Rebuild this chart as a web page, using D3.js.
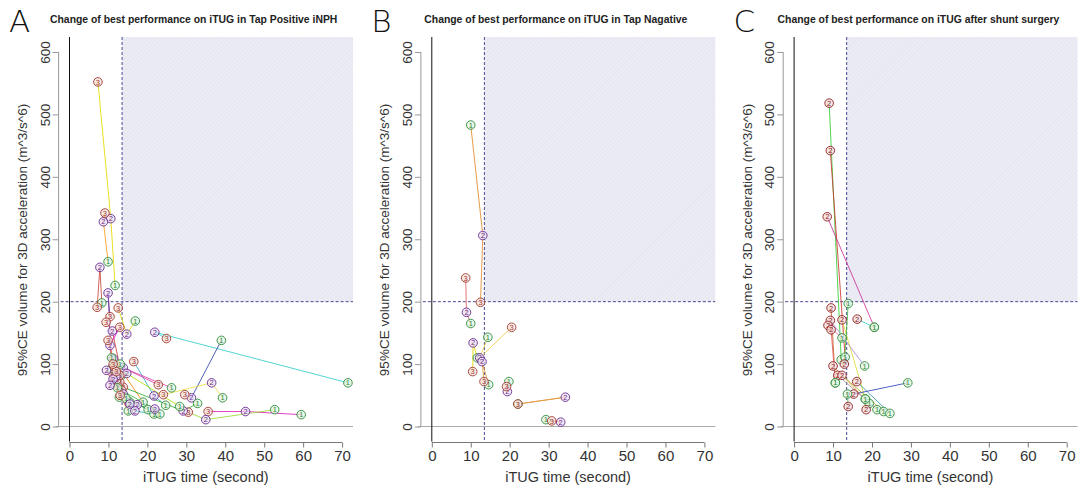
<!DOCTYPE html>
<html>
<head>
<meta charset="utf-8">
<script src="https://cdn.jsdelivr.net/npm/d3@7"></script>
<style>
body { margin: 0; background: #fff; }
svg { display: block; }
</style>
</head>
<body>
<div id="chart"></div>
<script>
var panelLetters = ["A", "B", "C"];
var panelTitles = [
  "Change of best performance on iTUG in Tap Positive iNPH",
  "Change of best performance on iTUG in Tap Nagative",
  "Change of best performance on iTUG after shunt surgery"
];
var xTicks = [0, 10, 20, 30, 40, 50, 60, 70];
var yTicks = [0, 100, 200, 300, 400, 500, 600];
var cutX = 13.5, cutY = 200;

// each patient: [test1, test2, test3] as [iTUG seconds, 95%CE volume]
var tapPosPatients = [
  [[11.7, 226], [10.6, 333], [7.3, 552]],
  [[9.9, 264], [8.7, 328], [9.1, 342]],
  [[8.3, 198], [7.8, 255], [7.1, 191]],
  [[16.9, 169], [14.7, 148], [12.5, 190]],
  [[10.8, 93], [9.9, 214], [10.4, 176]],
  [[13.4, 82], [11.0, 153], [9.4, 167]],
  [[12.8, 47], [10.4, 130], [12.9, 159]],
  [[18.9, 39], [11.2, 109], [9.9, 138]],
  [[71.5, 70], [21.9, 151], [24.9, 141]],
  [[39.0, 138], [31.3, 46], [29.6, 51]],
  [[15.1, 25], [9.5, 90], [12.1, 75]],
  [[24.7, 34], [21.7, 49], [16.5, 104]],
  [[26.2, 62], [13.8, 94], [22.8, 67]],
  [[59.5, 19], [45.2, 24], [35.6, 24]],
  [[52.7, 27], [35.0, 11], [30.5, 23]],
  [[39.3, 46], [36.5, 70], [24.1, 51]],
  [[32.9, 37], [29.2, 25], [13.8, 63]],
  [[28.3, 32], [14.7, 85], [12.9, 71]],
  [[20.2, 27], [17.4, 35], [12.5, 64]],
  [[21.7, 20], [16.8, 25], [12.1, 75]],
  [[23.2, 20], [21.9, 28], [13.4, 58]],
  [[15.5, 39], [13.8, 52], [12.9, 82]],
  [[10.8, 110], [11.9, 80], [11.5, 96]],
  [[13.0, 100], [11.2, 76], [12.0, 88]],
  [[12.3, 62], [10.4, 66], [11.2, 100]],
  [[14.5, 45], [15.5, 36], [13.0, 50]]
];
var tapPosColors = ["#e6d800", "#ff9a1a", "#c8463a", "#e0e000", "#7a3c9e", "#d04040",
  "#e000e0", "#ff8c00", "#33cccc", "#3344aa", "#cc3333", "#33aacc", "#dd44aa",
  "#dd22bb", "#99dd33", "#e8e044", "#33aa33", "#aadd00", "#22aa55", "#22bbaa",
  "#44bb44", "#8844cc", "#ee8844", "#dd66aa", "#cc4444", "#55bb55"];

var tapNegPatients = [
  [[10.0, 483], [13.1, 306], [12.5, 199]],
  [[10.0, 165], [8.9, 183], [8.7, 238]],
  [[11.7, 110], [10.6, 134], [10.5, 88]],
  [[14.4, 143], [12.3, 110], [20.5, 159]],
  [[14.6, 67], [12.9, 104], [13.4, 72]],
  [[19.8, 72], [19.4, 56], [19.2, 64]],
  [[22.1, 36], [34.3, 47], [22.1, 36]],
  [[29.3, 11], [33.1, 7], [30.8, 9]]
];
var tapNegColors = ["#e08a2a", "#e06060", "#e6d400", "#eecc44", "#e0a040",
  "#cc6677", "#e09a40", "#cc4444"];

var shuntPatients = [
  [[12.1, 107], [9.0, 518]],
  [[13.1, 111], [9.3, 442]],
  [[20.6, 159], [8.5, 336]],
  [[20.6, 159], [16.2, 172]],
  [[10.6, 70], [9.5, 190]],
  [[18.3, 44], [12.3, 171]],
  [[18.1, 97], [9.3, 170]],
  [[12.3, 142], [8.7, 162]],
  [[13.9, 197], [12.9, 100]],
  [[19.3, 37], [10.0, 97]],
  [[21.3, 27], [11.2, 82]],
  [[23.0, 24], [12.3, 82]],
  [[24.6, 21], [16.1, 72]],
  [[29.2, 70], [15.3, 52]],
  [[13.7, 52], [13.9, 32]],
  [[18.3, 44], [18.5, 27]],
  [[10.6, 70], [9.5, 155]]
];
var shuntColors = ["#33cc33", "#cc3333", "#cc3399", "#33cccc", "#cc6633", "#dddd33",
  "#aa88dd", "#dd66aa", "#44bb44", "#ee9933", "#999999", "#aaaa33", "#339999",
  "#3344bb", "#66aa66", "#88bb88", "#dd5555"];

var markStroke = {1: "#2e8b3a", 2: "#6a2c90", 3: "#a33a2c"};
var markFill = {1: "#e3f3e3", 2: "#ece2f4", 3: "#f6e3e0"};
var shuntStroke = {1: "#2e8b3a", 2: "#8e1f22"};
var shuntFill = {1: "#e3f3e3", 2: "#f3dcdc"};

var panels = [
  {patients: tapPosPatients, colors: tapPosColors, stroke: markStroke, fill: markFill},
  {patients: tapNegPatients, colors: tapNegColors, stroke: markStroke, fill: markFill},
  {patients: shuntPatients, colors: shuntColors, stroke: shuntStroke, fill: shuntFill}
];

var svg = d3.select("#chart").append("svg")
  .attr("width", 1086)
  .attr("height", 488);

// hatch for the "abnormal" corner
var pat = svg.append("defs").append("pattern")
  .attr("id", "hatch")
  .attr("patternUnits", "userSpaceOnUse")
  .attr("width", 3).attr("height", 3)
  .attr("patternTransform", "rotate(45)");
pat.append("rect").attr("width", 3).attr("height", 3).attr("fill", "#ececf5");
pat.append("line").attr("x1", 0).attr("y1", 0).attr("x2", 0).attr("y2", 3)
  .attr("stroke", "#dedeec").attr("stroke-width", 1);

var fontFam = "'Liberation Sans', Arial, sans-serif";

panels.forEach(function(p, i) {
  var ox = i * 362.3;
  var x = d3.scaleLinear().domain([-2.8, 72.8]).range([ox + 58.6, ox + 353]);
  var y = d3.scaleLinear().domain([-24, 624]).range([441.5, 37]);
  var g = svg.append("g");

  // letter + title
  g.append("text")
    .attr("x", ox + 9).attr("y", 32)
    .text(panelLetters[i])
    .style("font-family", "'DejaVu Sans', sans-serif")
    .style("font-weight", "200")
    .style("font-size", "31px")
    .attr("fill", "#111");
  g.append("text")
    .attr("x", ox + (i == 0 ? 50 : i == 1 ? 62 : 53)).attr("y", 23)
    .text(panelTitles[i])
    .style("font-family", fontFam)
    .style("font-weight", "bold")
    .style("font-size", "10.4px")
    .attr("fill", "#222");

  // shaded region x > cut, y > cut
  g.append("rect")
    .attr("x", x(cutX)).attr("y", y(624))
    .attr("width", x(72.8) - x(cutX))
    .attr("height", y(cutY) - y(624))
    .attr("fill", "url(#hatch)");

  // reference lines
  g.append("line")
    .attr("x1", x(-2.8) - 3).attr("x2", x(72.8))
    .attr("y1", y(0)).attr("y2", y(0))
    .attr("stroke", "#aaa").attr("stroke-width", 1.2);
  g.append("line")
    .attr("x1", x(0)).attr("x2", x(0))
    .attr("y1", y(624)).attr("y2", y(-24))
    .attr("stroke", "#111").attr("stroke-width", 1);
  g.append("line")
    .attr("x1", x(cutX)).attr("x2", x(cutX))
    .attr("y1", y(624)).attr("y2", y(-24))
    .attr("stroke", "#35358a").attr("stroke-width", 0.9)
    .attr("stroke-dasharray", "3,2");
  g.append("line")
    .attr("x1", x(-2.8) + 2).attr("x2", x(72.8))
    .attr("y1", y(cutY)).attr("y2", y(cutY))
    .attr("stroke", "#35358a").attr("stroke-width", 0.9)
    .attr("stroke-dasharray", "3,2");

  // y axis
  var ya = g.append("g")
    .attr("transform", "translate(" + x(-2.8) + ",0)")
    .call(d3.axisLeft(y).tickValues(yTicks).tickSize(6).tickSizeOuter(0));
  ya.select(".domain").remove();
  ya.append("line")
    .attr("y1", y(0)).attr("y2", y(600))
    .attr("stroke", "#999");
  ya.selectAll(".tick line").attr("stroke", "#999");
  ya.selectAll(".tick text")
    .attr("transform", "rotate(-90)")
    .attr("x", 0).attr("y", -9).attr("dy", 0)
    .attr("text-anchor", "middle")
    .style("font-family", fontFam)
    .style("font-size", "13.5px")
    .attr("fill", "#333");

  // x axis
  var xa = g.append("g")
    .attr("transform", "translate(0," + 442.5 + ")")
    .call(d3.axisBottom(x).tickValues(xTicks).tickSize(5).tickSizeOuter(0));
  xa.select(".domain").remove();
  xa.append("line")
    .attr("x1", x(0)).attr("x2", x(70))
    .attr("stroke", "#777");
  xa.selectAll(".tick line").attr("stroke", "#777");
  xa.selectAll(".tick text")
    .attr("y", 8)
    .style("font-family", fontFam)
    .style("font-size", "15px")
    .attr("fill", "#333");

  // axis titles
  g.append("text")
    .attr("x", x(35)).attr("y", 482)
    .attr("text-anchor", "middle")
    .text("iTUG time (second)")
    .style("font-family", fontFam)
    .style("font-size", "14.5px")
    .attr("fill", "#333");
  g.append("text")
    .attr("transform", "translate(" + (ox + 27) + "," + 240 + ") rotate(-90)")
    .attr("text-anchor", "middle")
    .text("95%CE volume for 3D acceleration (m^3/s^6)")
    .style("font-family", fontFam)
    .style("font-size", "13.5px")
    .attr("fill", "#333");

  // connecting lines per patient
  var line = d3.line().x(function(d) { return x(d[0]); }).y(function(d) { return y(d[1]); });
  g.append("g").selectAll("path")
    .data(p.patients)
    .enter().append("path")
    .attr("d", line)
    .attr("fill", "none")
    .attr("stroke", function(d, k) { return p.colors[k % p.colors.length]; })
    .attr("stroke-width", 1)
    .attr("opacity", 0.85);

  // numbered markers
  var pts = [];
  p.patients.forEach(function(pt) {
    pt.forEach(function(v, k) { pts.push({x: v[0], y: v[1], n: k + 1}); });
  });
  var mk = g.append("g").selectAll("g")
    .data(pts)
    .enter().append("g")
    .attr("transform", function(d) { return "translate(" + x(d.x) + "," + y(d.y) + ")"; });
  mk.append("circle")
    .attr("r", 4.3)
    .attr("fill", function(d) { return p.fill[d.n]; })
    .attr("fill-opacity", 0.7)
    .attr("stroke", function(d) { return p.stroke[d.n]; })
    .attr("stroke-width", 0.9);
  mk.append("text")
    .attr("text-anchor", "middle")
    .attr("dy", "0.35em")
    .text(function(d) { return d.n; })
    .style("font-family", fontFam)
    .style("font-size", "7.5px")
    .attr("fill", function(d) { return p.stroke[d.n]; });
});
</script>
</body>
</html>
